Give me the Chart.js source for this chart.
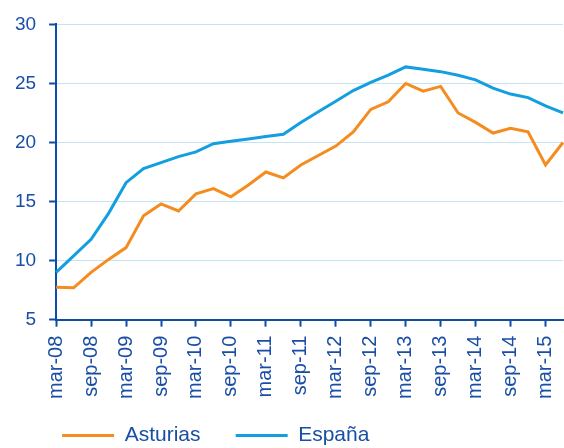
<!DOCTYPE html>
<html><head><meta charset="utf-8">
<script src="https://cdn.jsdelivr.net/npm/chart.js@4"></script>
<style>html,body{margin:0;padding:0;background:#fff;}canvas{display:block;}</style>
</head><body>
<canvas id="c" width="564" height="448"></canvas>
<script>
const categories = ["mar-08","jun-08","sep-08","dic-08","mar-09","jun-09","sep-09","dic-09","mar-10","jun-10","sep-10","dic-10","mar-11","jun-11","sep-11","dic-11","mar-12","jun-12","sep-12","dic-12","mar-13","jun-13","sep-13","dic-13","mar-14","jun-14","sep-14","dic-14","mar-15","jun-15"];
const asturias = [7.75,7.7,9.0,10.1,11.1,13.8,14.8,14.2,15.65,16.1,15.4,16.4,17.5,17.0,18.1,18.9,19.7,20.9,22.8,23.45,25.0,24.35,24.75,22.5,21.7,20.8,21.2,20.9,18.1,20.0];
const espana = [9.0,10.4,11.8,14.0,16.6,17.8,18.3,18.8,19.2,19.9,20.1,20.3,20.5,20.7,21.7,22.6,23.5,24.4,25.1,25.7,26.4,26.2,26.0,25.7,25.3,24.6,24.1,23.8,23.1,22.5];
const yTicks = [5,10,15,20,25,30];

const TXT = '#1a4ea6', AX = '#0c4da6', GRID = '#c4e4f5';
const FONT = 'Liberation Sans, Arial, sans-serif';

new Chart(document.getElementById('c'), {
  type: 'line',
  data: {
    labels: categories,
    datasets: [
      {label:'Asturias', data: asturias, borderColor:'#f48c1f', backgroundColor:'#f48c1f', borderWidth:3, pointRadius:0, tension:0},
      {label:'España', data: espana, borderColor:'#139ee0', backgroundColor:'#139ee0', borderWidth:3, pointRadius:0, tension:0}
    ]
  },
  options: {
    responsive:false, animation:false,
    layout:{padding:{left:2, right:1, top:17, bottom:-8}},
    plugins:{
      tooltip:{enabled:false},
      legend:{position:'bottom', align:'start', fullSize:false,
        labels:{boxWidth:52, boxHeight:3, padding:6, color:TXT, font:{family:FONT, size:21},
          generateLabels:function(chart){
            const items = Chart.defaults.plugins.legend.labels.generateLabels(chart);
            items.forEach(function(it,i){ it.lineWidth = 0; if(i===0){ it.text = it.text + '\u00a0\u00a0\u00a0\u00a0\u00a0'; } });
            return items;
          }}}
    },
    scales:{
      x:{
        offset:false,
        afterFit:function(ax){ ax.paddingRight = 0; ax.paddingLeft = 0; ax.height += 11; },
        border:{display:true, color:AX, width:2},
        grid:{display:true, drawOnChartArea:false, drawTicks:true, tickLength:7, color:AX, tickColor:AX, tickWidth:2},
        ticks:{autoSkip:false, maxRotation:90, minRotation:90, padding:9, color:TXT, font:{family:FONT, size:20},
          callback:function(v,i){ return i%2===0 ? categories[i] : null; }}
      },
      y:{
        min:5, max:30,
        afterBuildTicks:function(ax){ ax.ticks = yTicks.map(v=>({value:v})); },
        border:{display:true, color:AX, width:2},
        grid:{color:GRID, lineWidth:1, drawTicks:true, tickLength:7, tickColor:AX, tickWidth:2},
        ticks:{padding:13, color:TXT, font:{family:FONT, size:19}}
      }
    }
  }
});
</script>
</body></html>
